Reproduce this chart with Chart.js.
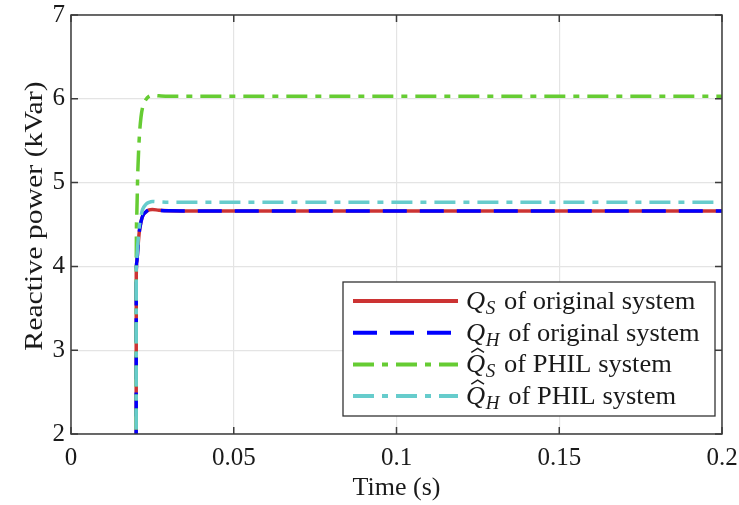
<!DOCTYPE html>
<html lang="en">
<head>
<meta charset="UTF-8">
<title>Reactive power response</title>
<script src="https://cdn.jsdelivr.net/npm/chart.js"></script>
<style>
    html, body { margin: 0; padding: 0; background: #fff; }
    #qChart { display: block; }
</style>
</head>
<body>
<canvas id="qChart" width="739" height="505"></canvas>
<script>
// time axis (s) and reactive power (kVar)
const timeS  = [0.02, 0.02005, 0.0202, 0.0205, 0.021, 0.0215, 0.022, 0.023, 0.024, 0.025, 0.027, 0.03, 0.05, 0.1, 0.15, 0.2];
const qsOrig = [0, 3.9, 4.05, 4.2, 4.42, 4.53, 4.6, 4.65, 4.675, 4.68, 4.67, 4.665, 4.66, 4.66, 4.66, 4.66];
const qhOrig = [0, 3.9, 4.05, 4.2, 4.42, 4.53, 4.6, 4.65, 4.675, 4.68, 4.67, 4.665, 4.66, 4.66, 4.66, 4.66];
const qsPhil = [0, 4.0, 4.6, 5.1, 5.55, 5.78, 5.9, 5.99, 6.03, 6.04, 6.035, 6.03, 6.03, 6.03, 6.03, 6.03];
const qhPhil = [0, 3.95, 4.1, 4.25, 4.48, 4.6, 4.68, 4.74, 4.765, 4.775, 4.77, 4.765, 4.765, 4.765, 4.765, 4.765];

const seriesNames = ['Q_S of original system', 'Q_H of original system', '^Q_S of PHIL system', '^Q_H of PHIL system'];
const xTickLabels = ['0', '0.05', '0.1', '0.15', '0.2'];
const yTickLabels = ['2', '3', '4', '5', '6', '7'];
const xTitle = 'Time (s)';
const yTitle = 'Reactive power (kVar)';

const serif = '"Liberation Serif", "Times New Roman", serif';
const inkColor = '#1a1a1a';

function pts(values) {
    return timeS.map((t, i) => ({ x: t, y: values[i] }));
}

// axes box, inner tick marks and axis titles
const framePlugin = {
    id: 'frame',
    afterDraw(chart) {
        const { ctx, chartArea: a, scales: { x, y } } = chart;
        ctx.save();
        ctx.strokeStyle = '#3c3c3c';
        ctx.lineWidth = 1.5;
        ctx.strokeRect(a.left, a.top, a.right - a.left, a.bottom - a.top);
        ctx.beginPath();
        y.ticks.forEach(t => {
            const py = y.getPixelForValue(t.value);
            ctx.moveTo(a.left, py); ctx.lineTo(a.left + 7, py);
            ctx.moveTo(a.right, py); ctx.lineTo(a.right - 7, py);
        });
        x.ticks.forEach(t => {
            const px = x.getPixelForValue(t.value);
            ctx.moveTo(px, a.bottom); ctx.lineTo(px, a.bottom - 7);
            ctx.moveTo(px, a.top); ctx.lineTo(px, a.top + 7);
        });
        ctx.stroke();

        ctx.fillStyle = inkColor;
        ctx.textAlign = 'center';
        ctx.textBaseline = 'middle';
        ctx.font = '26px ' + serif;
        ctx.fillText(xTitle, (a.left + a.right) / 2, 488);

        ctx.translate(35, 216);
        ctx.rotate(-Math.PI / 2);
        ctx.scale(1.19, 1);
        ctx.font = '25px ' + serif;
        ctx.fillText(yTitle, 0, 0);
        ctx.restore();
    }
};

// legend box inside the plot, built from the datasets
const legendPlugin = {
    id: 'legendBox',
    afterDraw(chart) {
        const { ctx, chartArea: a } = chart;
        const right = a.right - 7, bottom = a.bottom - 18;
        const left = right - 372, top = bottom - 134;
        ctx.save();
        ctx.fillStyle = '#fff';
        ctx.fillRect(left, top, right - left, bottom - top);
        ctx.strokeStyle = '#333';
        ctx.lineWidth = 1.3;
        ctx.strokeRect(left, top, right - left, bottom - top);

        chart.data.datasets.forEach((ds, i) => {
            const cy = top + 19 + i * 31.7;
            ctx.save();
            ctx.strokeStyle = ds.borderColor;
            ctx.lineWidth = 4;
            ctx.setLineDash(ds.borderDash || []);
            ctx.beginPath();
            ctx.moveTo(left + 10, cy);
            ctx.lineTo(left + 115, cy);
            ctx.stroke();
            ctx.restore();

            let name = ds.label;
            const hat = name.startsWith('^');
            if (hat) name = name.slice(1);
            const sub = name.charAt(2);
            const rest = name.slice(3);

            ctx.save();
            ctx.translate(left + 123, cy + 8);
            ctx.scale(1.06, 1);
            let tx = 0;
            ctx.fillStyle = inkColor;
            ctx.textAlign = 'left';
            ctx.textBaseline = 'alphabetic';
            ctx.font = 'italic 25px ' + serif;
            ctx.fillText('Q', tx, 0);
            const qw = ctx.measureText('Q').width;
            if (hat) {
                ctx.beginPath();
                ctx.strokeStyle = inkColor;
                ctx.lineWidth = 1.3;
                ctx.moveTo(tx + 5, -20);
                ctx.lineTo(tx + 11, -24);
                ctx.lineTo(tx + 17, -20);
                ctx.stroke();
            }
            tx += qw + 0.5;
            ctx.font = 'italic 18px ' + serif;
            ctx.fillText(sub, tx, 5);
            tx += ctx.measureText(sub).width + 2;
            ctx.font = '25px ' + serif;
            ctx.fillText(rest, tx, 0);
            ctx.restore();
        });
        ctx.restore();
    }
};

new Chart(document.getElementById('qChart'), {
    type: 'line',
    data: {
        datasets: [
            { label: seriesNames[0], data: pts(qsOrig), borderColor: '#cc3333', borderWidth: 3.5, order: 4 },
            { label: seriesNames[1], data: pts(qhOrig), borderColor: '#0000ff', borderWidth: 3.5, borderDash: [24, 13], order: 3 },
            { label: seriesNames[2], data: pts(qsPhil), borderColor: '#66cc33', borderWidth: 3.5, borderDash: [21, 8, 6, 8], order: 2 },
            { label: seriesNames[3], data: pts(qhPhil), borderColor: '#66cccc', borderWidth: 3.5, borderDash: [21, 8, 6, 8], order: 1 }
        ]
    },
    options: {
        responsive: false,
        animation: false,
        layout: { padding: { top: 15, right: 17, left: 0, bottom: 0 } },
        elements: {
            point: { radius: 0 },
            line: { tension: 0, cubicInterpolationMode: 'monotone', fill: false }
        },
        plugins: { legend: { display: false }, tooltip: { enabled: false } },
        scales: {
            x: {
                type: 'linear',
                min: 0,
                max: 0.2,
                ticks: {
                    stepSize: 0.05,
                    padding: 9,
                    color: inkColor,
                    font: { family: serif, size: 25 },
                    callback: (v, i) => xTickLabels[i]
                },
                grid: { color: '#e4e4e4', lineWidth: 1.2, drawTicks: false },
                border: { display: false },
                afterFit(s) { s.height = 71; s.paddingLeft = 0; s.paddingRight = 0; }
            },
            y: {
                min: 2,
                max: 7,
                ticks: {
                    stepSize: 1,
                    padding: 6,
                    color: inkColor,
                    font: { family: serif, size: 25 },
                    callback: (v, i) => yTickLabels[i]
                },
                grid: { color: '#e4e4e4', lineWidth: 1.2, drawTicks: false },
                border: { display: false },
                afterFit(s) { s.width = 71; s.paddingTop = 0; s.paddingBottom = 0; }
            }
        }
    },
    plugins: [framePlugin, legendPlugin]
});
</script>
</body>
</html>
